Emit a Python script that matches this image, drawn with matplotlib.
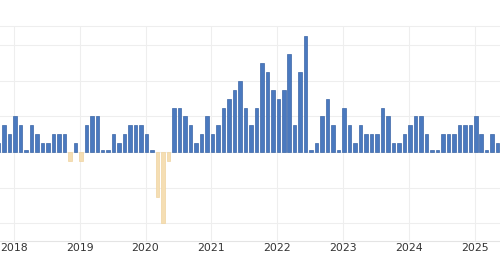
import matplotlib.pyplot as plt
import numpy as np
import pandas as pd

# monthly change, Oct 2017 .. May 2025
start = "2017-10"
values = [
    0.1, 0.3, 0.2,                                                  # 2017 Q4
    0.4, 0.3, 0.02, 0.3, 0.2, 0.1, 0.1, 0.2, 0.2, 0.2, -0.1, 0.1,   # 2018
    -0.1, 0.3, 0.4, 0.4, 0.02, 0.02, 0.2, 0.1, 0.2, 0.3, 0.3, 0.3,  # 2019
    0.2, 0.02, -0.5, -0.8, -0.1, 0.5, 0.5, 0.4, 0.3, 0.1, 0.2, 0.4, # 2020
    0.2, 0.3, 0.5, 0.6, 0.7, 0.8, 0.5, 0.3, 0.5, 1.0, 0.9, 0.7,     # 2021
    0.6, 0.7, 1.1, 0.3, 0.9, 1.3, 0.02, 0.1, 0.4, 0.6, 0.3, 0.02,   # 2022
    0.5, 0.3, 0.1, 0.3, 0.2, 0.2, 0.2, 0.5, 0.4, 0.1, 0.1, 0.2,     # 2023
    0.3, 0.4, 0.4, 0.2, 0.02, 0.02, 0.2, 0.2, 0.2, 0.3, 0.3, 0.3,   # 2024
    0.4, 0.2, 0.02, 0.2, 0.1,                                       # 2025
]
years = [2018, 2019, 2020, 2021, 2022, 2023, 2024, 2025]

months = pd.period_range(start, periods=len(values), freq="M")
vals = np.array(values)
# month index relative to Jan 2018
idx = np.array([(m.year - 2018) * 12 + m.month - 1 for m in months])

blue = "#4a79bf"
beige = "#f5deb3"
colors = [blue if v >= 0 else beige for v in vals]
edges = ["#3c66a6" if v >= 0 else "#f0d4a0" for v in vals]

fig = plt.figure(figsize=(5, 2.6), dpi=100, facecolor="white")
ax = fig.add_axes([0, 0.073, 1, 0.827])

ax.bar(idx, vals, width=0.64, color=colors, edgecolor=edges, linewidth=0.5, zorder=3)

ax.set_xlim(-2.73, 88.42)
ax.set_ylim(-1.0, 1.416)

# grid
ax.set_yticks(np.arange(-0.8, 1.3, 0.4))
ax.set_xticks([(y - 2018) * 12 - 0.2 for y in years])
ax.set_xticklabels([str(y) for y in years])
ax.grid(True, color="#eeeeee", linewidth=0.8, zorder=0)
ax.tick_params(axis="y", left=False, labelleft=False)
ax.tick_params(axis="x", length=0, pad=1.5, labelsize=7.8, colors="#333333")

for side in ["left", "right"]:
    ax.spines[side].set_visible(False)
ax.spines["top"].set_color("#eeeeee")
ax.spines["bottom"].set_color("#e4e4e4")
ax.spines["top"].set_linewidth(0.8)
ax.spines["bottom"].set_linewidth(0.8)

fig.savefig("out.png", dpi=100, facecolor="white")
